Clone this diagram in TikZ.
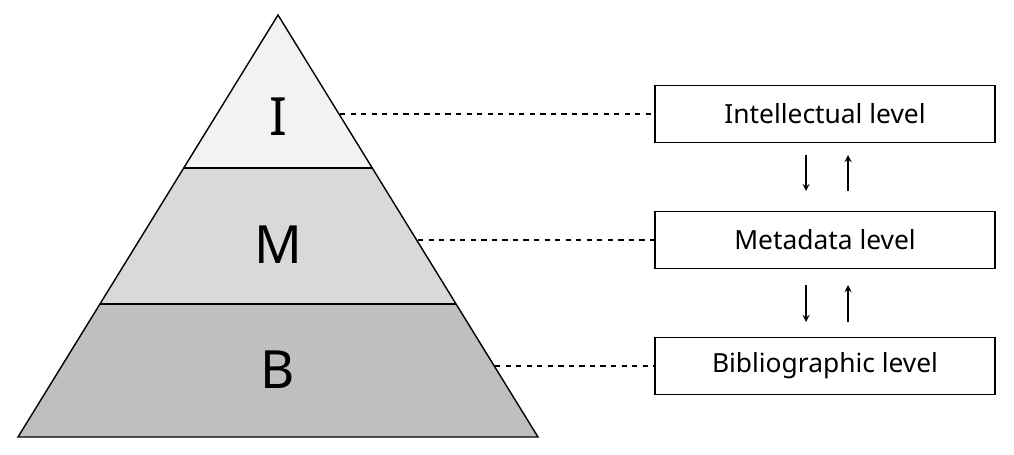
\documentclass[tikz,border=0pt]{standalone}
\usepackage{fontspec}
\setmainfont{Noto Sans}
\begin{document}
\begin{tikzpicture}[x=0.02cm,y=-0.02cm,
  lbl/.style={draw=black,line width=0.8pt,minimum width=6.8cm,minimum height=1.14cm,font=\fontsize{15}{18}\selectfont,inner sep=0pt},
  big/.style={font=\fontsize{30}{34}\selectfont\bfseries},
  dsh/.style={dashed,line width=0.6pt},
  arr/.style={-stealth,line width=0.8pt}]
\useasboundingbox (0,0) rectangle (1014,454);
\fill[fill=black!5] (278,15) -- (183.7,168) -- (372.3,168) -- cycle;
\fill[fill=black!15] (183.7,168) -- (100,304) -- (456,304) -- (372.3,168) -- cycle;
\fill[fill=black!25] (100,304) -- (18,437) -- (538,437) -- (456,304) -- cycle;
\draw[line width=0.8pt] (278,15) -- (18,437) -- (538,437) -- cycle;
\draw[line width=0.8pt] (183.7,168) -- (372.3,168) (100,304) -- (456,304);
\node[big] (i) at (278,117) {I};
\node[big] (m) at (278,245) {M};
\node[big] (b) at (278,370) {B};
\node[lbl] (il) at (825,114) {\textbf{Intellectual} level};
\node[lbl] (ml) at (825,240) {\textbf{Metadata} level};
\node[lbl] (bl) at (825,366) {\textbf{Bibliographic} level};
\coordinate (p1) at (340,114);
\coordinate (p2) at (418,240);
\coordinate (p3) at (495,366);
\draw[dsh] (p1) -- (il.west);
\draw[dsh] (p2) -- (ml.west);
\draw[dsh] (p3) -- (bl.west);
\coordinate (a1) at (806,155); \coordinate (a2) at (806,191);
\coordinate (a3) at (848,155); \coordinate (a4) at (848,191);
\coordinate (b1) at (806,285); \coordinate (b2) at (806,322);
\coordinate (b3) at (848,285); \coordinate (b4) at (848,322);
\draw[arr] (a1) -- (a2); \draw[arr] (a4) -- (a3);
\draw[arr] (b1) -- (b2); \draw[arr] (b4) -- (b3);
\end{tikzpicture}
\end{document}
